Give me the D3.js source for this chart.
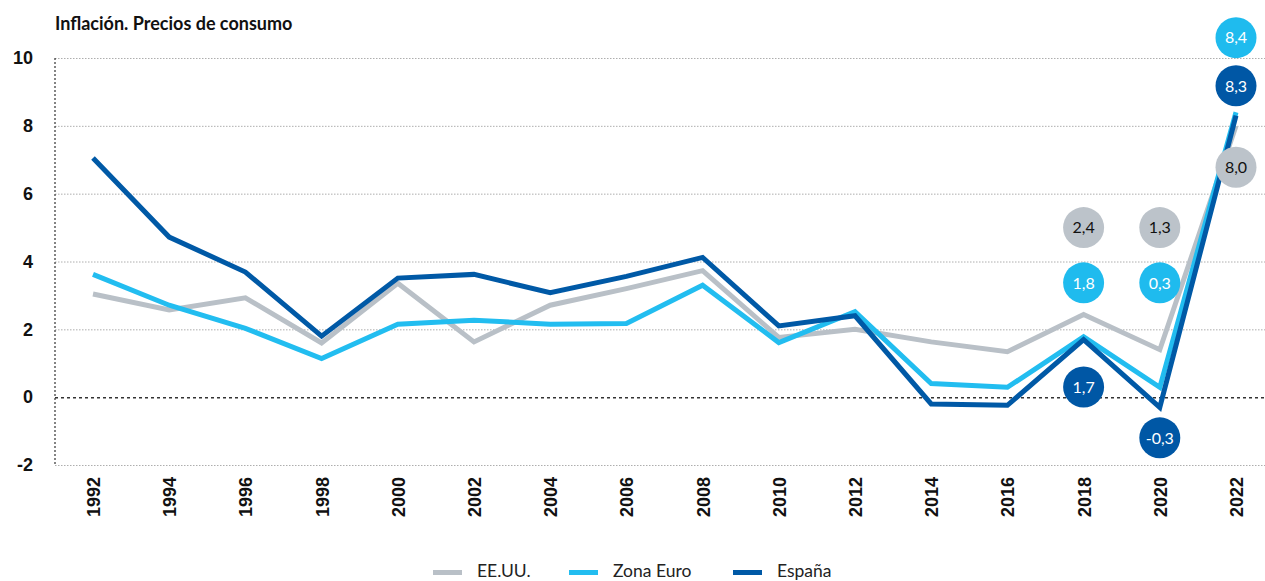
<!DOCTYPE html>
<html><head><meta charset="utf-8">
<script src="https://cdn.jsdelivr.net/npm/d3@7"></script>
<style>
body{margin:0;background:#fff;font-family:Lato,"Open Sans",sans-serif;}
</style></head><body>
<svg id="chart" width="1265" height="581"></svg>
<script>
const years = [1992,1994,1996,1998,2000,2002,2004,2006,2008,2010,2012,2014,2016,2018,2020,2022];
const usa   = [3.04,2.57,2.93,1.6,3.36,1.63,2.71,3.2,3.73,1.76,2.0,1.63,1.34,2.44,1.4,8.0];
const euro  = [3.62,2.71,2.03,1.14,2.15,2.27,2.15,2.17,3.3,1.61,2.52,0.4,0.29,1.78,0.29,8.4];
const spain = [7.05,4.72,3.69,1.8,3.51,3.62,3.08,3.56,4.12,2.1,2.4,-0.2,-0.24,1.7,-0.3,8.3];
const seriesNames = ["EE.UU.","Zona Euro","España"];
const yTicks = [-2,0,2,4,6,8,10];
// annotation bubbles: series index, year, shown label, anchor value (in axis units)
const bubbleSeries = [0,1,2, 0,1,2, 1,2,0];
const bubbleYears  = [2018,2018,2018, 2020,2020,2020, 2022,2022,2022];
const bubbleText   = ["2,4","1,8","1,7","1,3","0,3","-0,3","8,4","8,3","8,0"];
const bubbleAnchor = [5.0,3.37,0.3, 5.0,3.37,-1.2, 10.6,9.18,6.78];

const colors = ["#b9c0c7","#22bdf0","#0059a6"];
const bubbleFill = ["#bcc3ca","#1fbbee","#0057a5"];
const bubbleInk = ["#111","#fff","#fff"];
const axisFont = "'Liberation Sans',Arial,sans-serif";

const svg = d3.select("#chart");
const x = d3.scalePoint().domain(years).range([93,1236]);
const y = d3.scaleLinear().domain([-2,10]).range([465,58]);
const left = 55, right = 1265;

// title
svg.append("text").attr("x",55).attr("y",30).attr("font-size",18).attr("font-weight",700)
  .attr("fill","#111").text("Inflación. Precios de consumo");

// grid
const gy = d3.axisLeft(y).tickValues(yTicks).tickSize(-(right-left)).tickFormat(d=>d);
const g = svg.append("g").attr("transform",`translate(${left},0)`).call(gy);
g.select(".domain").remove();
g.selectAll(".tick line").attr("stroke",d=>d===0?"#333":"#999")
  .attr("stroke-width",d=>d===0?1.5:0.8)
  .attr("stroke-dasharray",d=>d===0?"3,3":"1.5,1.5");
g.selectAll(".tick text").attr("x",-22).attr("font-size",18).attr("font-weight",700)
  .attr("fill","#111").attr("font-family",axisFont);
// vertical axis dotted
svg.append("line").attr("x1",left).attr("x2",left).attr("y1",y(10)).attr("y2",y(-2))
  .attr("stroke","#333").attr("stroke-width",1.2).attr("stroke-dasharray","2,2");

// x axis labels
const gx = d3.axisBottom(x).tickSize(0).tickFormat(d=>d);
const xg = svg.append("g").attr("transform",`translate(0,${y(-2)})`).call(gx);
xg.select(".domain").remove();
xg.selectAll(".tick text").attr("transform","rotate(-90)").attr("text-anchor","end")
  .attr("x",-12).attr("y",0).attr("dy","0.36em").attr("font-size",18).attr("font-weight",700)
  .attr("fill","#111").attr("font-family",axisFont);

// lines
const line = d3.line().x((d,i)=>x(years[i])).y(d=>y(d));
[usa,euro,spain].forEach((s,k)=>{
  svg.append("path").datum(s).attr("d",line).attr("fill","none")
    .attr("stroke",colors[k]).attr("stroke-width",5).attr("stroke-linejoin","miter");
});

// bubbles
bubbleText.forEach((t,i)=>{
  const k = bubbleSeries[i];
  const cx = x(bubbleYears[i]), cy = y(bubbleAnchor[i]);
  svg.append("circle").attr("cx",cx).attr("cy",cy).attr("r",20.5).attr("fill",bubbleFill[k]);
  svg.append("text").attr("x",cx).attr("y",cy).attr("dy","0.36em").attr("text-anchor","middle")
    .attr("font-size",16).attr("fill",bubbleInk[k]).text(t);
});

// legend
const legX = [433,569,733];
seriesNames.forEach((n,k)=>{
  svg.append("rect").attr("x",legX[k]).attr("y",570).attr("width",29).attr("height",5).attr("fill",colors[k]);
  svg.append("text").attr("x",legX[k]+44).attr("y",577).attr("font-size",17.5).attr("fill","#222").text(n);
});
</script>
</body></html>
